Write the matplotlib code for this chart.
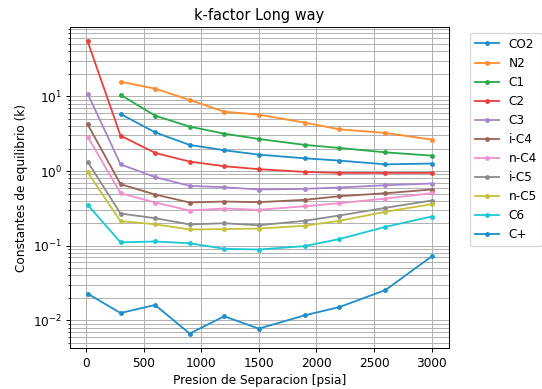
import numpy as np
import matplotlib
matplotlib.use('Agg')
import matplotlib.pyplot as plt

# separator pressures [psia]
presion = [14.7, 300, 600, 900, 1200, 1500, 1900, 2200, 2600, 3000]

componentes = ['CO2', 'N2', 'C1', 'C2', 'C3', 'i-C4', 'n-C4', 'i-C5', 'n-C5', 'C6', 'C+']

nan = np.nan
k_co2 = [nan, 5.82, 3.30, 2.24, 1.90, 1.66, 1.48, 1.38, 1.23, 1.26]
k_n2 = [nan, 15.7, 12.7, 8.95, 6.24, 5.69, 4.45, 3.62, 3.24, 2.64]
k_c1 = [nan, 10.5, 5.52, 3.94, 3.17, 2.69, 2.24, 2.04, 1.78, 1.61]
k_c2 = [54.4, 2.98, 1.75, 1.34, 1.16, 1.06, 0.975, 0.945, 0.945, 0.945]
k_c3 = [10.9, 1.23, 0.83, 0.634, 0.607, 0.566, 0.578, 0.602, 0.646, 0.681]
k_ic4 = [4.22, 0.667, 0.485, 0.379, 0.391, 0.383, 0.412, 0.460, 0.505, 0.566]
k_nc4 = [2.89, 0.505, 0.379, 0.296, 0.315, 0.303, 0.338, 0.371, 0.429, 0.505]
k_ic5 = [1.33, 0.270, 0.234, 0.193, 0.200, 0.188, 0.216, 0.254, 0.322, 0.403]
k_nc5 = [0.96, 0.213, 0.194, 0.165, 0.167, 0.170, 0.185, 0.216, 0.285, 0.360]
k_c6 = [0.353, 0.111, 0.114, 0.108, 0.091, 0.089, 0.099, 0.123, 0.179, 0.246]
k_cplus = [0.0228, 0.01256, 0.0161, 0.00667, 0.01135, 0.00777, 0.0117, 0.0151, 0.0255, 0.0719]

series = [k_co2, k_n2, k_c1, k_c2, k_c3, k_ic4, k_nc4, k_ic5, k_nc5, k_c6, k_cplus]

# tab10-like cycle, a little brighter as in the original picture
colores = ['#1f8ec9', '#ff8c2e', '#2aab4a', '#e8403c', '#a884cc',
           '#9a6458', '#f090cc', '#8c8c8c', '#c4c23a', '#1cc8d6', '#1f8ec9']

# render a bit larger and save at lower dpi, like the downscaled original
dpi = 87
fig = plt.figure(figsize=(542 / dpi, 389 / dpi), dpi=dpi)
ax = fig.add_axes([0.130, 0.105, 0.698, 0.826])

for nombre, k, c in zip(componentes, series, colores):
    ax.plot(presion, k, marker='.', color=c, label=nombre)

ax.set_yscale('log')
ax.grid(True, which='both')
ax.set_title('k-factor Long way')
ax.set_xlabel('Presion de Separacion [psia]')
ax.set_ylabel('Constantes de equilibrio (k)')
ax.legend(bbox_to_anchor=(1.04, 1), loc='upper left')

fig.savefig('out.png', dpi=dpi)
